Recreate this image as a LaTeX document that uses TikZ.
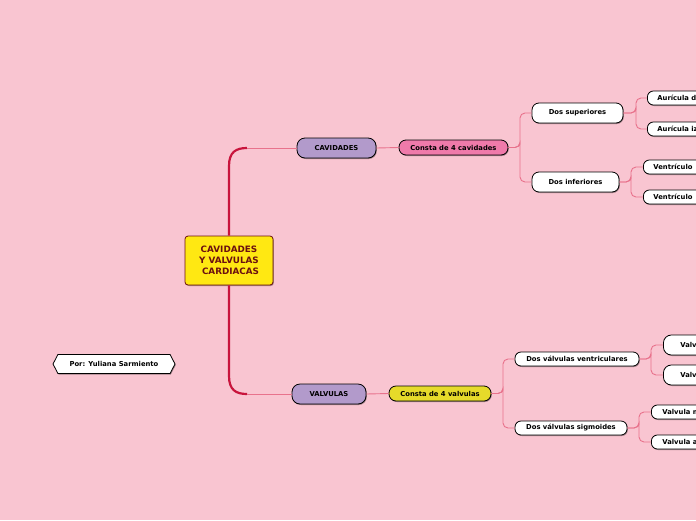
\documentclass[tikz,border=0pt]{standalone}
\usepackage{fontspec}
\setmainfont{DejaVu Sans}
\usetikzlibrary{shadows,shapes.misc,shapes.symbols}
\definecolor{bg}{HTML}{F9C5D1}
\definecolor{maincon}{HTML}{C8143C}
\definecolor{subcon}{HTML}{E8728C}
\definecolor{cyell}{HTML}{FFE812}
\definecolor{cbrown}{HTML}{6B1010}
\definecolor{cpurple}{HTML}{B29ACB}
\definecolor{cpink}{HTML}{EF7AAA}
\definecolor{cyel2}{HTML}{E6DA2A}
\tikzset{
  shd/.style={drop shadow={shadow xshift=0.8pt,shadow yshift=-1pt,opacity=0.35,fill=black}},
  base/.style={draw=black,line width=0.8pt,font=\fontsize{6.8}{8}\bfseries,inner sep=0pt,shd,text=black},
  lvl1/.style={base,rounded corners=8pt,fill=cpurple,minimum height=20pt},
  lvl2/.style={base,rounded corners=7pt,minimum height=15pt},
  leaf/.style={base,rounded corners=7pt,fill=white,minimum height=20pt},
  leafs/.style={base,rounded corners=6pt,fill=white,minimum height=14pt,anchor=west},
  leafb/.style={base,rounded corners=8pt,fill=white,minimum height=20pt,anchor=west},
  mainline/.style={draw=maincon,line width=2.2pt},
  thinmain/.style={draw=subcon,line width=0.9pt},
  sub/.style={draw=subcon,line width=0.9pt,rounded corners=5pt},
}
\begin{document}
\begin{tikzpicture}[x=1pt,y=-1pt]
\fill[bg] (0,0) rectangle (696,520);
\useasboundingbox (0,0) rectangle (696,520);
\clip (0,0) rectangle (696,520);
% nodes
\node[base,fill=cyell,draw=cbrown,text=cbrown,rounded corners=3pt,minimum width=88pt,minimum height=49pt,align=center,font=\fontsize{8.8}{11}\bfseries] (c) at (229,260.5) {CAVIDADES\\Y VALVULAS\\\ CARDIACAS};
\node[lvl1,minimum width=79pt] (cav) at (336.5,148) {CAVIDADES};
\node[lvl2,fill=cpink,minimum width=109pt] (cc) at (453.5,147.5) {Consta de 4 cavidades};
\node[leaf,minimum width=91pt] (ds) at (577.5,113) {Dos superiores};
\node[leaf,minimum width=87pt] (di) at (575.5,182) {Dos inferiores};
\node[leafs] (a1) at (647,98) {\hspace*{10pt}Aurícula d\hspace*{30pt}};
\node[leafs] (a2) at (647,129) {\hspace*{10pt}Aurícula iz\hspace*{30pt}};
\node[leafs] (v1) at (643,167) {\hspace*{10pt}Ventrículo\hspace*{30pt}};
\node[leafs] (v2) at (643,197) {\hspace*{10pt}Ventrículo\hspace*{30pt}};
\node[lvl1,minimum width=74pt] (val) at (329,394) {VALVULAS};
\node[lvl2,fill=cyel2,minimum width=102pt] (cv) at (440,393.5) {Consta de 4 valvulas};
\node[leafs,anchor=center,minimum width=124pt] (dv) at (577,359) {Dos válvulas ventriculares};
\node[leafs,anchor=center,minimum width=112pt] (dg) at (571,428) {Dos válvulas sigmoides};
\node[leafb] (w1) at (663,345) {\hspace*{17pt}Valv\hspace*{30pt}};
\node[leafb] (w2) at (663,375) {\hspace*{17pt}Valv\hspace*{30pt}};
\node[leafs] (s1) at (651,412) {\hspace*{11pt}Valvula m\hspace*{30pt}};
\node[leafs] (s2) at (651,442) {\hspace*{11pt}Valvula a\hspace*{30pt}};
\node[base,fill=white,signal,signal to=west and east,signal pointer angle=125,minimum width=122pt,minimum height=19pt] (por) at (114,364) {Por: Yuliana Sarmiento};
% main connectors
\coordinate (k1) at (247,148);
\coordinate (k2) at (247,394);
\draw[mainline] (c.north) -- (229,166) .. controls (229,152) and (236,148) .. (k1);
\draw[thinmain] (k1) -- (cav.west);
\draw[mainline] (c.south) -- (229,376) .. controls (229,390) and (236,394) .. (k2);
\draw[thinmain] (k2) -- (val.west);
% level connectors
\draw[thinmain] (cav.east) -- (cc.west);
\draw[thinmain] (val.east) -- (cv.west);
\draw[sub] (cc.east) -| (520,147.5) |- (ds.west);
\draw[sub] (cc.east) -| (520,147.5) |- (di.west);
\draw[sub] (ds.east) -| (636,113) |- (a1.west);
\draw[sub] (ds.east) -| (636,113) |- (a2.west);
\draw[sub] (di.east) -| (631,182) |- (v1.west);
\draw[sub] (di.east) -| (631,182) |- (v2.west);
\draw[sub] (cv.east) -| (503,393.5) |- (dv.west);
\draw[sub] (cv.east) -| (503,393.5) |- (dg.west);
\draw[sub] (dv.east) -| (651,359) |- (w1.west);
\draw[sub] (dv.east) -| (651,359) |- (w2.west);
\draw[sub] (dg.east) -| (639,428) |- (s1.west);
\draw[sub] (dg.east) -| (639,428) |- (s2.west);
\end{tikzpicture}
\end{document}
